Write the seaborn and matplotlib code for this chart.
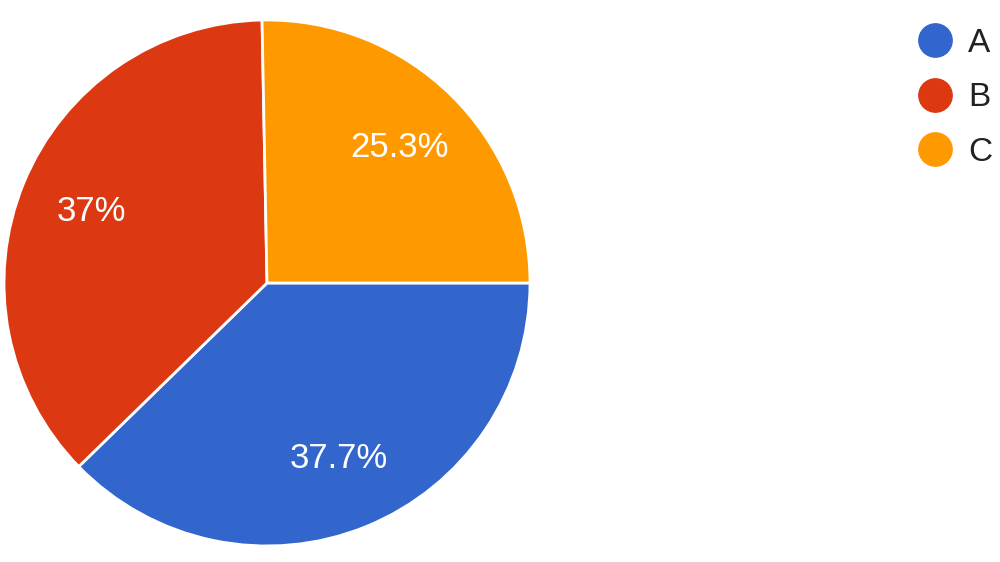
import numpy as np
import seaborn as sns
import matplotlib.pyplot as plt
from matplotlib.lines import Line2D

# data
labels = ["A", "B", "C"]
shares = [37.7, 37.0, 25.3]
colors = ["#3366CC", "#DC3912", "#FF9900"]

sns.set_theme(style="white")
plt.rcParams['font.family'] = ['Liberation Sans', 'DejaVu Sans']

fig = plt.figure(figsize=(10, 5.62), dpi=100)
ax = fig.add_axes([0.004, 0.0285, 0.526, 0.936])

wedges, texts, autotexts = ax.pie(
    shares,
    colors=colors,
    startangle=0,
    counterclock=False,
    autopct=lambda p: f"{p:.1f}%".replace(".0%", "%"),
    pctdistance=0.72,
    wedgeprops=dict(edgecolor="white", linewidth=2),
    textprops=dict(color="white", fontsize=25),
)
ax.set_xlim(-1.0, 1.0)
ax.set_ylim(-1.0, 1.0)
ax.set_aspect("equal")

# legend with round markers
handles = [Line2D([0], [0], marker="o", linestyle="none", markersize=24,
                  markerfacecolor=c, markeredgecolor=c) for c in colors]
leg = fig.legend(handles, labels, loc="upper left", bbox_to_anchor=(0.905, 0.974),
                 frameon=False, fontsize=24, labelspacing=0.7, handletextpad=0.5,
                 handlelength=1.0, borderaxespad=0)
for t in leg.get_texts():
    t.set_color("#222222")

fig.savefig("out.png", dpi=100)
